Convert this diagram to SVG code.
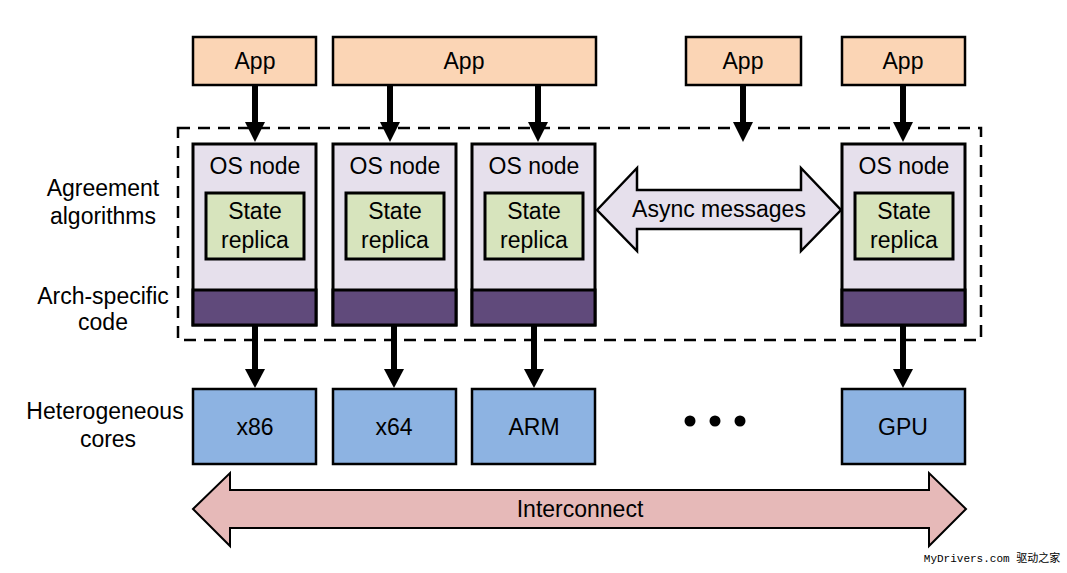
<svg xmlns="http://www.w3.org/2000/svg" width="1067" height="573" viewBox="0 0 1067 573">
<defs>
<style>
text{font-family:"Liberation Sans",Arial,sans-serif;font-size:23px;fill:#000;text-anchor:middle;dominant-baseline:central}
.app{fill:#FBD5B5;stroke:#000;stroke-width:2.5}
.os{fill:#E6E0EC;stroke:#000;stroke-width:3}
.arch{fill:#604A7B;stroke:#000;stroke-width:3}
.rep{fill:#D7E4BD;stroke:#000;stroke-width:3}
.core{fill:#8DB3E2;stroke:#000;stroke-width:2.5}
.lbl{font-size:23px}
.shaft{stroke:#000;stroke-width:6;fill:none}
.head{fill:#000}
</style>
</defs>
<rect width="1067" height="573" fill="#fff"/>

<g id="boundary">
<rect x="178" y="128" width="803" height="212" fill="none" stroke="#000" stroke-width="2.5" stroke-dasharray="12,8"/>
</g>

<g id="labels">
<text class="lbl" x="103" y="188">Agreement</text>
<text class="lbl" x="103" y="216">algorithms</text>
<text class="lbl" x="103" y="296">Arch-specific</text>
<text class="lbl" x="103" y="322">code</text>
<text class="lbl" x="105" y="411">Heterogeneous</text>
<text class="lbl" x="108" y="439">cores</text>
</g>

<g id="app1"><rect class="app" x="193" y="37" width="123" height="48"/><text x="255" y="61">App</text></g>
<g id="app2"><rect class="app" x="333" y="37" width="263" height="48"/><text x="464" y="61">App</text></g>
<g id="app3"><rect class="app" x="686" y="37" width="115" height="48"/><text x="743" y="61">App</text></g>
<g id="app4"><rect class="app" x="842" y="37" width="123" height="48"/><text x="903" y="61">App</text></g>

<g id="os1">
<rect class="os" x="193" y="144" width="123" height="181"/>
<rect class="arch" x="193" y="290" width="123" height="35"/>
<text x="255" y="166">OS node</text>
<rect class="rep" x="206" y="193" width="98" height="66"/>
<text x="255" y="211">State</text><text x="255" y="240">replica</text>
</g>
<g id="os2">
<rect class="os" x="333" y="144" width="123" height="181"/>
<rect class="arch" x="333" y="290" width="123" height="35"/>
<text x="395" y="166">OS node</text>
<rect class="rep" x="346" y="193" width="98" height="66"/>
<text x="395" y="211">State</text><text x="395" y="240">replica</text>
</g>
<g id="os3">
<rect class="os" x="472" y="144" width="123" height="181"/>
<rect class="arch" x="472" y="290" width="123" height="35"/>
<text x="534" y="166">OS node</text>
<rect class="rep" x="485" y="193" width="98" height="66"/>
<text x="534" y="211">State</text><text x="534" y="240">replica</text>
</g>
<g id="os4">
<rect class="os" x="842" y="144" width="123" height="181"/>
<rect class="arch" x="842" y="290" width="123" height="35"/>
<text x="904" y="166">OS node</text>
<rect class="rep" x="855" y="193" width="98" height="66"/>
<text x="904" y="211">State</text><text x="904" y="240">replica</text>
</g>

<g id="async">
<path d="M597,210 L637,168 L637,190 L801,190 L801,168 L841,210 L801,251 L801,229 L637,229 L637,251 Z" fill="#E6E0EC" stroke="#000" stroke-width="2.5" stroke-linejoin="miter"/>
<text x="719" y="209">Async messages</text>
</g>

<g id="core1"><rect class="core" x="193" y="389" width="123" height="75"/><text x="255" y="427">x86</text></g>
<g id="core2"><rect class="core" x="333" y="389" width="123" height="75"/><text x="394" y="427">x64</text></g>
<g id="core3"><rect class="core" x="472" y="389" width="123" height="75"/><text x="534" y="427">ARM</text></g>
<g id="core4"><rect class="core" x="842" y="389" width="123" height="75"/><text x="903" y="427">GPU</text></g>

<g id="ellipsis">
<circle cx="690" cy="421" r="5.5" fill="#000"/>
<circle cx="715" cy="421" r="5.5" fill="#000"/>
<circle cx="740" cy="421" r="5.5" fill="#000"/>
</g>

<g id="interconnect">
<path d="M193,509 L230,473 L230,490 L929,490 L929,473 L966,509 L929,546 L929,528 L230,528 L230,546 Z" fill="#E6B9B8" stroke="#000" stroke-width="2"/>
<text x="580" y="509">Interconnect</text>
</g>

<g id="connectors">
<line class="shaft" x1="255" y1="85" x2="255" y2="126"/><path class="head" d="M245,122 L265,122 L255,142 Z"/>
<line class="shaft" x1="390" y1="85" x2="390" y2="126"/><path class="head" d="M380,122 L400,122 L390,142 Z"/>
<line class="shaft" x1="538" y1="85" x2="538" y2="126"/><path class="head" d="M528,122 L548,122 L538,142 Z"/>
<line class="shaft" x1="743" y1="85" x2="743" y2="126"/><path class="head" d="M733,122 L753,122 L743,142 Z"/>
<line class="shaft" x1="903" y1="85" x2="903" y2="126"/><path class="head" d="M893,122 L913,122 L903,142 Z"/>
<line class="shaft" x1="255" y1="325" x2="255" y2="372"/><path class="head" d="M245,369 L265,369 L255,388 Z"/>
<line class="shaft" x1="394" y1="325" x2="394" y2="372"/><path class="head" d="M384,369 L404,369 L394,388 Z"/>
<line class="shaft" x1="534" y1="325" x2="534" y2="372"/><path class="head" d="M524,369 L544,369 L534,388 Z"/>
<line class="shaft" x1="903" y1="325" x2="903" y2="372"/><path class="head" d="M893,369 L913,369 L903,388 Z"/>
</g>

<g id="watermark">
<text x="992" y="559" style="font-family:'Liberation Mono','Noto Sans CJK SC',monospace;font-size:11px">MyDrivers.com 驱动之家</text>
</g>
</svg>
